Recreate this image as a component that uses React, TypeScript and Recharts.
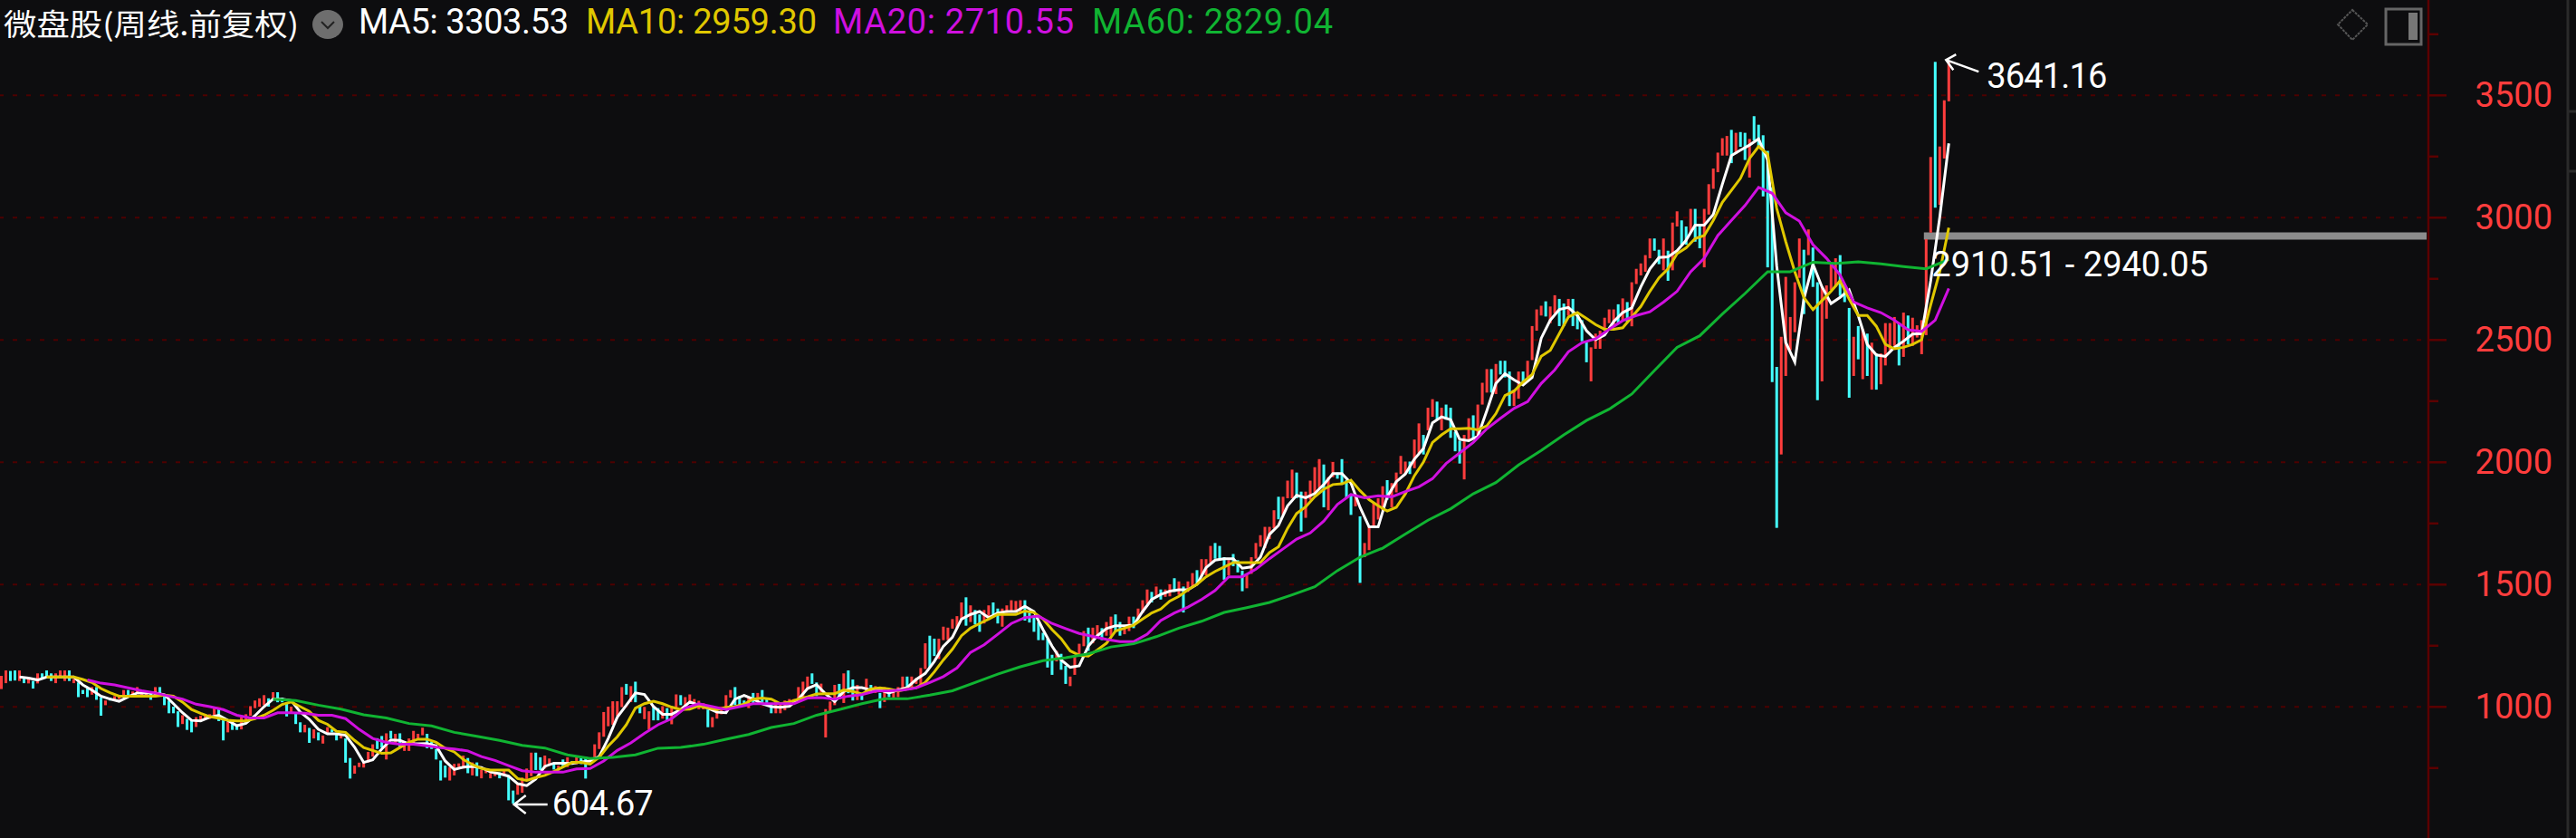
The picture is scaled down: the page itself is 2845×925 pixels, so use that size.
import React from 'react'
import { ComposedChart, Bar, Line, XAxis, YAxis, CartesianGrid, ReferenceArea, ReferenceDot } from 'recharts'

const BG = '#0d0d0f'
const UP = '#ff3d3d'
const DOWN = '#44ffff'
const FONT = 'Roboto, "Noto Sans", sans-serif'
const CJK = '"Noto Sans CJK SC", sans-serif'
const NUM_SIZE = 38

const majorTicks = [1000, 1500, 2000, 2500, 3000, 3500]
const allTicks = [750, 1000, 1250, 1500, 1750, 2000, 2250, 2500, 2750, 3000, 3250, 3500, 3750]
const slotCount = 536

// weekly bars
const highs = [
  1127, 1149, 1147, 1149, 1149, 1118, 1118, 1106, 1137, 1137,
  1149, 1137, 1137, 1149, 1149, 1149, 1114, 1100, 1069, 1075,
  1081, 1081, 1038, 1026, 1038, 1044, 1044, 1069, 1069, 1063,
  1081, 1063, 1063, 1056, 1081, 1081, 1050, 1026, 1001, 982,
  966, 951, 945, 958, 964, 970, 970, 995, 995, 945,
  939, 933, 927, 958, 970, 1003, 1026, 1035, 1048, 1035,
  1060, 1060, 1038, 1019, 1001, 976, 937, 927, 914, 908,
  896, 883, 917, 908, 890, 890, 871, 791, 760, 772,
  773, 816, 847, 872, 881, 892, 902, 890, 892, 859,
  871, 902, 890, 915, 890, 859, 828, 781, 760, 754,
  767, 769, 801, 791, 773, 773, 742, 748, 729, 735,
  732, 742, 717, 658, 686, 711, 748, 813, 813, 794,
  801, 789, 766, 760, 785, 794, 779, 797, 794, 797,
  791, 847, 896, 979, 1001, 1023, 1023, 1081, 1094, 1085,
  1103, 1007, 1000, 982, 1001, 995, 1003, 995, 1001, 1051,
  1048, 1040, 1051, 1032, 1025, 1015, 989, 958, 995, 995,
  1048, 1069, 1081, 1044, 1026, 1038, 1057, 1057, 1069, 1032,
  1013, 1020, 1013, 1026, 1032, 1032, 1081, 1103, 1124, 1137,
  1100, 1095, 991, 1022, 1090, 1094, 1137, 1149, 1112, 1090,
  1057, 1115, 1090, 1085, 1057, 1081, 1063, 1060, 1081, 1124,
  1124, 1124, 1118, 1159, 1260, 1291, 1279, 1279, 1328, 1324,
  1359, 1371, 1427, 1448, 1415, 1396, 1378, 1396, 1415, 1427,
  1402, 1402, 1415, 1436, 1433, 1436, 1436, 1385, 1374, 1347,
  1303, 1279, 1213, 1229, 1217, 1168, 1124, 1211, 1258, 1310,
  1324, 1324, 1334, 1322, 1347, 1369, 1378, 1347, 1322, 1369,
  1369, 1402, 1436, 1480, 1470, 1492, 1480, 1480, 1501, 1526,
  1513, 1492, 1513, 1547, 1559, 1604, 1604, 1658, 1670, 1658,
  1612, 1600, 1625, 1600, 1557, 1538, 1612, 1670, 1702, 1736,
  1736, 1804, 1859, 1859, 1925, 1970, 1958, 1880, 1880, 1925,
  1980, 2013, 1991, 1939, 2001, 1958, 2013, 1927, 1872, 1870,
  1779, 1670, 1742, 1834, 1853, 1902, 1927, 1915, 1958, 2026,
  2003, 2003, 2093, 2159, 2112, 2223, 2258, 2248, 2223, 2236,
  2223, 2125, 2088, 2112, 2180, 2192, 2236, 2325, 2381, 2381,
  2402, 2415, 2415, 2371, 2297, 2371, 2371, 2415, 2557, 2625,
  2640, 2658, 2637, 2683, 2668, 2649, 2668, 2668, 2612, 2581,
  2495, 2470, 2526, 2538, 2591, 2625, 2625, 2646, 2670, 2655,
  2736, 2791, 2813, 2847, 2915, 2915, 2869, 2915, 2865, 2980,
  3026, 2989, 2964, 3036, 3036, 2964, 3036, 3137, 3201, 3266,
  3325, 3334, 3359, 3347, 3350, 3347, 3322, 3415, 3380, 3337,
  3273, 3124, 2390, 2513, 2758, 2594, 2736, 2915, 2869, 2952,
  2878, 2736, 2717, 2723, 2810, 2834, 2847, 2729, 2631, 2513,
  2557, 2544, 2526, 2489, 2445, 2445, 2569, 2569, 2594, 2569,
  2612, 2600, 2591, 2560, 2581, 2912, 3248, 3637, 3291, 3480,
  3641,
]
const lows = [
  1073, 1097, 1106, 1108, 1106, 1097, 1096, 1075, 1096, 1112,
  1127, 1106, 1097, 1124, 1106, 1106, 1097, 1040, 1053, 1040,
  1050, 1029, 964, 1007, 1026, 1026, 1032, 1040, 1044, 1050,
  1056, 1048, 1044, 1029, 1040, 1056, 1007, 974, 974, 918,
  930, 906, 896, 918, 945, 951, 951, 966, 942, 863,
  896, 906, 906, 908, 933, 964, 995, 1001, 1007, 1001,
  1032, 1019, 1019, 961, 976, 930, 896, 896, 853, 871,
  863, 850, 890, 896, 863, 871, 772, 707, 727, 754,
  752, 773, 797, 828, 834, 785, 871, 847, 834, 820,
  820, 853, 865, 884, 831, 828, 785, 699, 711, 699,
  720, 754, 748, 729, 720, 717, 708, 729, 708, 717,
  708, 723, 618, 605, 641, 649, 705, 717, 742, 742,
  748, 760, 744, 739, 754, 754, 766, 766, 766, 707,
  773, 791, 828, 878, 921, 927, 964, 999, 1050, 1020,
  1019, 974, 950, 908, 945, 945, 952, 945, 929, 989,
  1007, 1000, 1020, 995, 990, 990, 917, 917, 952, 970,
  1001, 1038, 1007, 1005, 1007, 995, 1013, 1020, 1020, 1013,
  974, 974, 974, 986, 1020, 1013, 1026, 1032, 1075, 1094,
  1044, 1060, 875, 980, 1007, 1032, 1016, 1056, 1026, 1028,
  1028, 1063, 1057, 1057, 995, 1020, 1040, 1035, 1040, 1073,
  1073, 1081, 1094, 1088, 1155, 1161, 1208, 1196, 1273, 1273,
  1320, 1322, 1359, 1332, 1347, 1337, 1307, 1341, 1365, 1378,
  1341, 1328, 1384, 1386, 1386, 1390, 1353, 1345, 1307, 1273,
  1273, 1161, 1131, 1186, 1152, 1094, 1085, 1131, 1211, 1248,
  1229, 1260, 1285, 1273, 1291, 1291, 1310, 1291, 1297, 1310,
  1322, 1359, 1384, 1421, 1427, 1448, 1439, 1450, 1452, 1470,
  1458, 1386, 1470, 1489, 1501, 1532, 1538, 1588, 1606, 1600,
  1520, 1538, 1575, 1550, 1473, 1485, 1544, 1606, 1655, 1649,
  1686, 1730, 1767, 1785, 1853, 1853, 1853, 1717, 1773, 1847,
  1870, 1890, 1816, 1804, 1939, 1933, 1908, 1853, 1785, 1820,
  1507, 1612, 1641, 1736, 1766, 1803, 1847, 1816, 1877, 1952,
  1952, 1952, 1976, 2038, 2032, 2131, 2186, 2174, 2131, 2174,
  2100, 2045, 1995, 1930, 2094, 2094, 2106, 2236, 2285, 2285,
  2279, 2359, 2347, 2230, 2230, 2260, 2316, 2347, 2418, 2538,
  2600, 2596, 2569, 2609, 2557, 2557, 2600, 2557, 2544, 2495,
  2409, 2331, 2464, 2464, 2538, 2569, 2563, 2569, 2581, 2575,
  2556, 2729, 2764, 2779, 2834, 2865, 2810, 2785, 2742, 2785,
  2964, 2890, 2890, 2939, 2902, 2875, 2797, 3013, 3118, 3186,
  3254, 3254, 3223, 3260, 3290, 3236, 3164, 3316, 3285, 3087,
  2797, 2328, 1732, 2032, 2353, 2458, 2532, 2754, 2606, 2847,
  2717, 2254, 2331, 2587, 2705, 2717, 2680, 2655, 2264, 2353,
  2421, 2340, 2353, 2297, 2297, 2319, 2396, 2458, 2476, 2396,
  2431, 2482, 2476, 2510, 2442, 2520, 2939, 3041, 3053, 3242,
  3476,
]
const directions = [
  'uuddududud', 'dduuududdd', 'udduduuudu', 'uuududdddd', 'udduuuuudd', 'udduuuuuud',
  'uddduddudu', 'duuddudduu', 'uuuddududu', 'uuuudddddu', 'uuududuuuu', 'dudduuuudd',
  'uududududd', 'uuuuuuuudu', 'dduudduduu', 'duuuuuduuu', 'uudddududd', 'duuuuuuuud',
  'duuuududdu', 'dudududuuu', 'duuuudduuu', 'uuududduud', 'duuuuudddd', 'dddudduuuu',
  'duuduudduu', 'duuududuud', 'uduuduuudd', 'duddduuuuu', 'uuduuudduu', 'uuduuddddu',
  'duuuuuduuu', 'uduuduudud', 'ddduuduuud', 'uddduuduuu', 'uduudduddd', 'duuuuuudud',
  'uuuuuddudu', 'uddudduuuu', 'uududduddd', 'ddduuuuudu', 'dduuuudddu', 'dududuuuud',
  'uduuuuuduu', 'u',
].join('')

// moving averages, read every few bars
const ma5Start = 4
const ma5Step = 2
const ma5 = [
  1122, 1118, 1110, 1122, 1122, 1122, 1122, 1090, 1069, 1044, 1032, 1023, 1041, 1057, 1057, 1057, 1050, 1013,
  976, 945, 943, 958, 966, 945, 923, 933, 964, 1001, 1032, 1032, 1026, 979, 949, 908, 890, 890, 884, 835,
  773, 784, 828, 865, 863, 849, 849, 850, 841, 779, 744, 754, 757, 752, 734, 727, 717, 686, 678, 705, 757,
  770, 770, 769, 775, 779, 797, 871, 958, 1007, 1057, 1051, 1001, 970, 970, 989, 1020, 1007, 995, 979,
  976, 1032, 1047, 1032, 1013, 1001, 998, 1003, 1032, 1075, 1091, 1053, 1022, 1063, 1079, 1079, 1069, 1069,
  1057, 1069, 1079, 1112, 1137, 1186, 1248, 1285, 1359, 1378, 1390, 1365, 1384, 1390, 1390, 1411, 1390,
  1316, 1248, 1192, 1162, 1168,
  1248, 1291, 1320, 1332, 1332, 1334, 1390, 1439, 1460, 1473, 1479, 1479, 1501, 1569, 1600, 1606, 1606,
  1567, 1572, 1612, 1705, 1742, 1822, 1865, 1855, 1872, 1909, 1954, 1954, 1915,
  1816, 1736, 1736, 1859, 1921, 1952, 2013, 2057, 2161, 2186, 2174, 2094, 2088, 2106, 2211, 2322, 2362,
  2337, 2316, 2347, 2507, 2581, 2625, 2633, 2600, 2538, 2501, 2520, 2575, 2612,
  2631, 2717, 2791, 2837, 2840, 2865, 2908, 2970, 2970, 3013, 3137, 3254, 3276, 3297, 3322, 3236, 2803,
  2490, 2410, 2668, 2810, 2717, 2649, 2674, 2705, 2600, 2482, 2439, 2433, 2470, 2495, 2524, 2526, 2742,
  3001, 3304,
]
const ma10Start = 10
const ma10Step = 2
const ma10 = [
  1122, 1122, 1122, 1122, 1112, 1100, 1075, 1058, 1044, 1044, 1044, 1044, 1044, 1048, 1044, 1020, 989, 974,
  960, 954, 945, 943, 943, 952, 966, 986, 1010, 1020, 1001, 982, 945, 929, 900, 896, 863,
  834, 822, 810, 812, 834, 855, 868, 868, 855, 831, 816, 785, 764, 748, 742, 742, 742, 707, 699, 711, 720,
  736, 754, 773, 773, 766, 794, 840, 878, 927, 995, 1013, 1023, 1013, 999, 989, 991, 1004, 995, 989,
  998, 1001, 1011, 1032, 1036, 1032, 1013, 1020, 1032, 1041, 1053, 1054, 1054, 1069, 1063, 1053, 1073, 1078,
  1073, 1065, 1073, 1079, 1100, 1143, 1192, 1236, 1291, 1322, 1341, 1359, 1378, 1378, 1378, 1392, 1386,
  1359, 1316, 1279, 1229, 1211,
  1208, 1233, 1260, 1310, 1322, 1334, 1359, 1384, 1400, 1433, 1452, 1479, 1501, 1532, 1554, 1572, 1590,
  1590, 1590, 1590, 1631, 1655, 1730, 1791, 1818, 1859, 1890, 1909, 1912, 1927,
  1884, 1847, 1822, 1801, 1816, 1871, 1945, 2001, 2081, 2112, 2137, 2137, 2139, 2133, 2149, 2199, 2273,
  2291, 2328, 2359, 2433, 2458, 2526, 2594, 2612, 2588, 2563, 2544, 2544, 2550,
  2594, 2637, 2699, 2754, 2791, 2853, 2877, 2915, 2927, 2989, 3063, 3112, 3161, 3242, 3291, 3260, 3038,
  2902, 2779, 2674, 2624, 2661, 2699, 2742, 2668, 2600, 2600, 2556, 2482, 2464, 2470, 2482, 2501, 2643,
  2779, 2959,
]
const ma20Start = 19
const ma20Step = 3
const ma20 = [
  1110, 1097, 1090, 1078, 1066, 1057, 1044, 1032, 1011, 1001, 989, 966, 955, 955, 976, 976, 974, 966, 966,
  952, 908, 871, 855, 847, 847, 841, 833, 828, 820, 797, 781, 760, 739, 733, 733, 733, 746, 748, 779, 822,
  853, 892, 927, 952, 995, 1013, 1001, 989, 1001, 1013, 1013, 1013, 1013, 1036, 1038, 1032, 1044, 1050,
  1065, 1066, 1069, 1078, 1100, 1124, 1159, 1223, 1254, 1297, 1341, 1365, 1371, 1341, 1320, 1300, 1288,
  1276, 1267, 1267, 1297, 1353, 1384, 1408, 1439, 1476, 1532, 1532, 1563, 1606, 1646, 1686, 1711, 1760,
  1828, 1868, 1855, 1863, 1859, 1880, 1900, 1933, 1995, 2038, 2081, 2137, 2180, 2220, 2248, 2322, 2378,
  2452, 2489, 2505, 2544, 2579, 2600, 2615, 2655, 2699, 2779, 2834, 2927, 2989, 3050, 3124, 3100, 3020,
  2986, 2890, 2834, 2766, 2655, 2631, 2612, 2581, 2542, 2535, 2581, 2711,
]
const ma60Start = 60
const ma60Step = 5
const ma60 = [
  1032, 1026, 1007, 991, 968, 955, 932, 922, 896, 880, 863, 843, 832, 804, 789, 794, 804, 831, 834, 847,
  868, 887, 916, 932, 966, 989, 1013, 1033, 1033, 1048, 1066, 1100, 1134, 1164, 1189, 1201, 1217, 1245,
  1258, 1287, 1322, 1350, 1386, 1406, 1427, 1458, 1491, 1557, 1612, 1649, 1707, 1763, 1810, 1871, 1917,
  1989, 2048, 2112, 2171, 2217, 2279, 2375, 2470, 2517, 2606, 2690, 2779, 2779, 2818, 2813, 2820, 2811,
  2800, 2791, 2829,
]

const sampled = (list: number[], start: number, step: number, i: number) =>
  i >= start && (i - start) % step === 0 ? list[(i - start) / step] : undefined

const rows = Array.from({ length: slotCount }, (_, i) => ({
  i,
  high: highs[i],
  low: lows[i],
  up: directions[i] === 'u',
  ma5: sampled(ma5, ma5Start, ma5Step, i),
  ma10: sampled(ma10, ma10Start, ma10Step, i),
  ma20: sampled(ma20, ma20Start, ma20Step, i),
  ma60: sampled(ma60, ma60Start, ma60Step, i),
}))

const CandleShape = (props: any) => {
  const { x, y, width, height, payload } = props
  if (payload.high == null) return null
  return (
    <rect
      x={x + width / 2 - 1.5}
      y={y}
      width={3}
      height={height}
      fill={payload.up ? UP : DOWN}
    />
  )
}

const PriceTick = (props: any) => {
  const { x, y, payload } = props
  const major = majorTicks.includes(payload.value)
  return (
    <g>
      <line x1={x} x2={x + (major ? 20 : 11)} y1={y} y2={y} stroke="#5c0000" strokeWidth={2.5} />
      {major && (
        <text x={x + 137} y={y + 13} textAnchor="end" fill={UP} fontSize={NUM_SIZE} fontFamily={FONT}>
          {payload.value}
        </text>
      )}
    </g>
  )
}

const arrowStroke = { stroke: '#fff', strokeWidth: 2.5, fill: 'none' }

const LowMark = ({ cx, cy }: any) => (
  <g>
    <path d={`M${cx + 1} ${cy}H${cx + 38}M${cx + 14} ${cy - 10}L${cx + 1} ${cy}L${cx + 14} ${cy + 10}`} {...arrowStroke} />
    <text x={cx + 43} y={cy + 12} fill="#fff" fontSize={NUM_SIZE} fontFamily={FONT} textLength={112}>604.67</text>
  </g>
)

const HighMark = ({ cx, cy }: any) => (
  <g>
    <path d={`M${cx - 3} ${cy}L${cx + 33} ${cy + 13}M${cx + 8} ${cy - 6}L${cx - 3} ${cy}L${cx + 5} ${cy + 11}`} {...arrowStroke} />
    <text x={cx + 42} y={cy + 31} fill="#fff" fontSize={NUM_SIZE} fontFamily={FONT} textLength={133}>3641.16</text>
  </g>
)

const RangeMark = ({ cx, cy }: any) => (
  <text x={cx + 6} y={cy + 44} fill="#fff" fontSize={NUM_SIZE} fontFamily={FONT}>2910.51 - 2940.05</text>
)

const Decor = () => (
  <svg width={2845} height={925} style={{ position: 'absolute', left: 0, top: 0, pointerEvents: 'none' }}>
    <text x={4} y={39} fill="#fff" fontSize={33.5} fontFamily={CJK} textLength={326} lengthAdjust="spacingAndGlyphs">
      微盘股(周线.前复权)
    </text>
    <ellipse cx={362} cy={27} rx={17} ry={16} fill="#6e6e6e" />
    <path d="M355 24L362 31L369 24" stroke="#222" strokeWidth={2} fill="none" />
    <text x={396} y={37} fill="#fff" fontSize={NUM_SIZE} fontFamily={FONT} textLength={232}>MA5: 3303.53</text>
    <text x={647} y={37} fill="#e0c800" fontSize={NUM_SIZE} fontFamily={FONT} textLength={255}>MA10: 2959.30</text>
    <text x={920} y={37} fill="#d010e0" fontSize={NUM_SIZE} fontFamily={FONT} textLength={266}>MA20: 2710.55</text>
    <text x={1206} y={37} fill="#10b432" fontSize={NUM_SIZE} fontFamily={FONT} textLength={266}>MA60: 2829.04</text>
    <path d="M2598 11L2615 27L2598 44L2582 27Z" stroke="#555" strokeWidth={2} strokeDasharray="3 1" fill="none" />
    <rect x={2635} y={10} width={39} height={39} stroke="#666" strokeWidth={3} fill="none" />
    <rect x={2660} y={14} width={10} height={30} fill="#777" />
    <line x1={2836} x2={2836} y1={0} y2={925} stroke="#2a2a2a" strokeWidth={3} />
    <line x1={2837} x2={2845} y1={123} y2={123} stroke="#2a2a2a" strokeWidth={3} />
    <line x1={2837} x2={2845} y1={189} y2={189} stroke="#2a2a2a" strokeWidth={3} />
  </svg>
)

export default function App() {
  return (
    <div style={{ position: 'absolute', left: 0, top: 0, width: 2845, height: 925, background: BG, overflow: 'hidden' }}>
      <ComposedChart
        width={2845}
        height={925}
        data={rows}
        margin={{ top: 0, right: 0, bottom: 0, left: -1 }}
        barCategoryGap={0}
      >
        <CartesianGrid
          vertical={false}
          horizontalValues={majorTicks}
          stroke="#4d0000"
          strokeWidth={2}
          strokeDasharray="5 10"
        />
        <XAxis dataKey="i" hide padding={{ left: 0, right: 2 }} />
        <YAxis
          orientation="right"
          width={163}
          domain={[464, 3890]}
          allowDataOverflow
          ticks={allTicks}
          interval={0}
          tickSize={0}
          tickMargin={0}
          tickLine={false}
          axisLine={{ stroke: '#5c0000', strokeWidth: 2.5 }}
          tick={<PriceTick />}
        />
        <ReferenceArea x1={425} y1={2910.51} y2={2940.05} fill="#8c8c8c" fillOpacity={1} stroke="none" />
        <ReferenceDot x={425} y={2925} shape={RangeMark} />
        <Bar
          dataKey={(d: any) => (d.high == null ? null : [d.low, d.high])}
          shape={CandleShape}
          isAnimationActive={false}
        />
        <Line dataKey="ma5" stroke="#ffffff" strokeWidth={3} dot={false} connectNulls isAnimationActive={false} />
        <Line dataKey="ma10" stroke="#e0c800" strokeWidth={3} dot={false} connectNulls isAnimationActive={false} />
        <Line dataKey="ma20" stroke="#d010e0" strokeWidth={3} dot={false} connectNulls isAnimationActive={false} />
        <Line dataKey="ma60" stroke="#10b432" strokeWidth={3} dot={false} connectNulls isAnimationActive={false} />
        <ReferenceDot x={113} y={601} shape={LowMark} />
        <ReferenceDot x={430} y={3645} shape={HighMark} />
      </ComposedChart>
      <Decor />
    </div>
  )
}
